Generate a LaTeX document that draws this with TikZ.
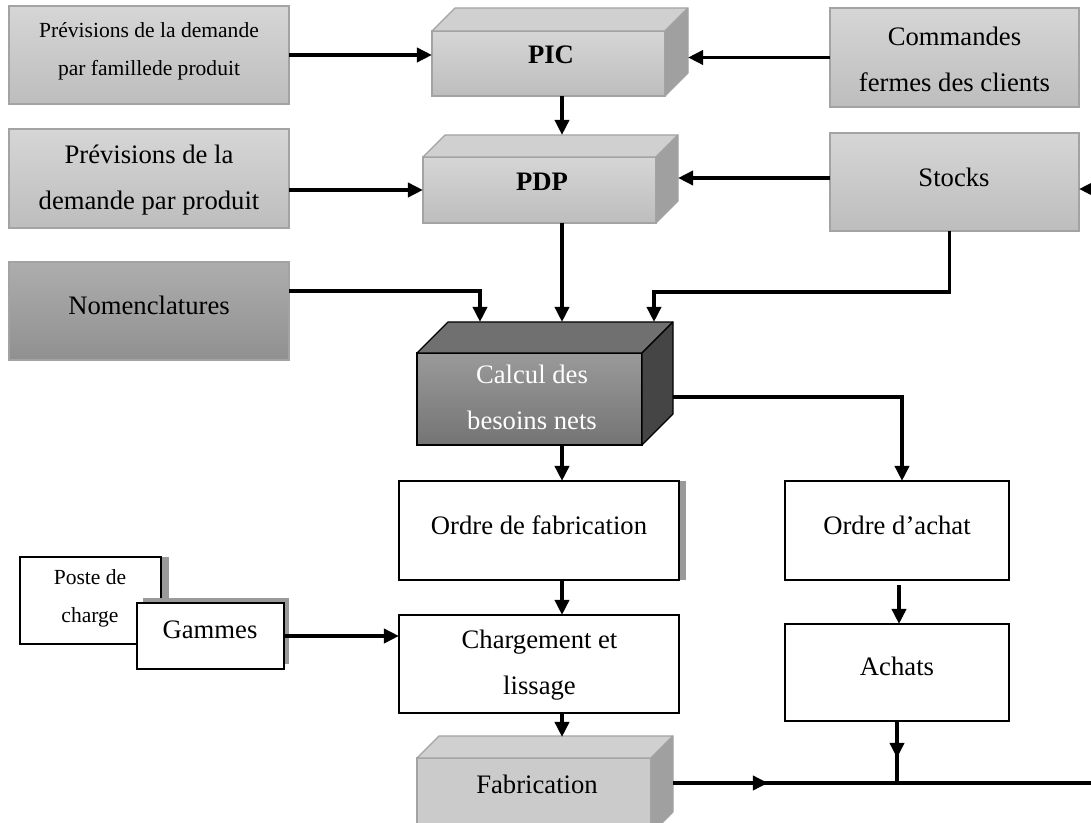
\documentclass[tikz,border=0pt]{standalone}
\usepackage{fontspec}
\setmainfont{Liberation Serif}
\usetikzlibrary{arrows.meta,calc}

\definecolor{lighttop}{HTML}{D6D6D6}
\definecolor{lightbot}{HTML}{BDBDBD}
\definecolor{midtop}{HTML}{ADADAD}
\definecolor{midbot}{HTML}{909090}
\definecolor{darktop}{HTML}{9A9A9A}
\definecolor{darkbot}{HTML}{747474}
\definecolor{boxedge}{HTML}{A3A3A3}
\definecolor{facetop}{HTML}{D0D0D0}
\definecolor{faceside}{HTML}{A0A0A0}
\definecolor{darkface}{HTML}{707070}
\definecolor{darkside}{HTML}{454545}
\definecolor{fabfront}{HTML}{CBCBCB}
\definecolor{shadowgray}{HTML}{9A9A9A}

\tikzset{
  wh/.style 2 args={minimum width=#1*0.45pt, minimum height=#2*0.45pt},
  shapebase/.style={rectangle, inner sep=0pt, outer sep=0pt},
  graybox/.style={shapebase, draw=boxedge, line width=0.5pt, top color=lighttop, bottom color=lightbot},
  midbox/.style={shapebase, draw=boxedge, line width=0.5pt, top color=midtop, bottom color=midbot},
  darkbox/.style={shapebase, draw=black, line width=0.5pt, top color=darktop, bottom color=darkbot},
  fabbox/.style={shapebase, draw=boxedge, line width=0.5pt, fill=fabfront},
  whitebox/.style={shapebase, draw=black, line width=1pt, fill=white},
  txt/.style={align=center, inner sep=0pt, font=\fontsize{12}{20.7}\selectfont},
  smalltxt/.style={align=center, inner sep=0pt, font=\fontsize{9.7}{17.1}\selectfont},
  boldtxt/.style={align=center, inner sep=0pt, font=\fontsize{12}{20.7}\selectfont\bfseries},
  arr/.style={line width=1.7pt, -{Triangle[length=6.8pt,width=6.3pt]}},
  ln/.style={line width=1.7pt},
}

% top and right faces of a box drawn in perspective
\newcommand\boxfaces[5]{%
  \filldraw[fill=#3, draw=#5, line width=0.5pt, line join=round]
    (#1.north west) -- ++(#2,-#2) -- ($(#1.north east)+(#2,-#2)$) -- (#1.north east) -- cycle;
  \filldraw[fill=#4, draw=#5, line width=0.5pt, line join=round]
    (#1.north east) -- ++(#2,-#2) -- ($(#1.south east)+(#2,-#2)$) -- (#1.south east) -- cycle;
}

\begin{document}
\begin{tikzpicture}[x=0.45pt, y=-0.45pt]
\useasboundingbox (0,0) rectangle (1091,823);
\clip (0,0) rectangle (1091,823);

% input boxes
\node[graybox, wh={280}{98}] (fam) at (149,55) {};
\node[graybox, wh={280}{99}] (prod) at (149,178.5) {};
\node[midbox, wh={280}{98}] (nom) at (149,311) {};
\node[graybox, wh={249}{99}] (cmd) at (954.5,57.5) {};
\node[graybox, wh={249}{98}] (stk) at (954.5,182) {};

% planning blocks
\node[graybox, wh={233}{65}] (pic) at (548.5,63.5) {};
\boxfaces{pic}{23}{facetop}{faceside}{boxedge}
\node[graybox, wh={233}{66}] (pdp) at (539.5,190) {};
\boxfaces{pdp}{22}{facetop}{faceside}{boxedge}
\node[darkbox, wh={225}{92}] (calc) at (529.5,399) {};
\boxfaces{calc}{31}{darkface}{darkside}{black}
\node[fabbox, wh={234}{76}] (fab) at (534,796) {};
\boxfaces{fab}{22}{facetop}{faceside}{boxedge}

% orders and execution
\fill[shadowgray] (406,481) rectangle (686,580);
\node[whitebox, wh={280}{99}] (of) at (539,530.5) {};
\node[whitebox, wh={280}{98}] (chg) at (539,664) {};
\node[whitebox, wh={224}{99}] (oa) at (897,530.5) {};
\node[whitebox, wh={224}{97}] (ach) at (897,672.5) {};

\fill[shadowgray] (28,557) rectangle (169,644);
\node[whitebox, wh={141}{87}] (poste) at (90.5,600.5) {};
\fill[shadowgray] (143,598) rectangle (289,664);
\node[whitebox, wh={147}{66}] (gam) at (210.5,636) {};

% labels
\node[smalltxt] (t-fam) at (149,51) {Prévisions de la demande\\par famillede produit};
\node[txt] (t-prod) at (149,180) {Prévisions de la\\demande par produit};
\node[txt] (t-nom) at (149,305) {Nomenclatures};
\node[txt] (t-cmd) at (954.5,59.5) {Commandes\\fermes des clients};
\node[txt] (t-stk) at (954,177) {Stocks};
\node[boldtxt] (t-pic) at (551,55) {PIC};
\node[boldtxt] (t-pdp) at (542,182) {PDP};
\node[txt, text=white] (t-calc) at (532,397) {Calcul des\\besoins nets};
\node[txt] (t-of) at (539,525) {Ordre de fabrication};
\node[txt] (t-oa) at (897,525) {Ordre d’achat};
\node[smalltxt] (t-poste) at (90,598.5) {Poste de\\charge};
\node[txt] (t-gam) at (210,630) {Gammes};
\node[txt] (t-chg) at (539.5,665) {Chargement et\\lissage};
\node[txt] (t-ach) at (897,666) {Achats};
\node[txt] (t-fab) at (537,784) {Fabrication};

% reference points for connectors
\coordinate (colx) at (562,0);
\coordinate (picR) at ($(pic.east)+(23,0)$);
\coordinate (pdpR) at ($(pdp.east)+(22,0)$);
\coordinate (pdpT) at ($(pdp.north)+(0,-22)$);
\coordinate (calcT) at ($(calc.north)+(0,-31)$);
\coordinate (fabT) at ($(fab.north)+(0,-21)$);
\coordinate (stkout) at ($(stk.west)+(0,-4)$);
\coordinate (rin) at (1100,189);
\coordinate (nomout) at ($(nom.east)+(0,-20)$);
\coordinate (nx) at (480,0);
\coordinate (sb) at ($(stk.south)+(-5,0)$);
\coordinate (sx) at (654,292);
\coordinate (calcout) at ($(calc.east)+(31,-2)$);
\coordinate (fo) at ($(fab.east)+(22,-13)$);
\coordinate (m1) at (768,783);
\coordinate (busR) at (1100,783);
\coordinate (aj) at (ach.south |- fo);

% connectors
\draw[arr] (fam.east) -- (fam.east -| pic.west);
\draw[arr] (cmd.west) -- (cmd.west -| picR);
\draw[arr] (colx |- pic.south) -- (colx |- pdpT);
\draw[arr] (pdp.west -| prod.east) -- (pdp.west);
\draw[arr] (stkout) -- (stkout -| pdpR);
\draw[arr] (rin) -- (rin -| stk.east);
\draw[arr] (colx |- pdp.south) -- (colx |- calcT);
\draw[arr] (nomout) -| (nx |- calcT);
\draw[arr] (sb) |- (sx) -- (sx |- calcT);
\draw[arr] (colx |- calc.south) -- (colx |- of.north);
\draw[arr] (calcout) -| ($(oa.north)+(5,0)$);
\draw[arr] (colx |- of.south) -- (colx |- chg.north);
\draw[arr] ($(oa.south)+(2,5)$) -- ($(ach.north)+(2,0)$);
\draw[arr] (gam.east) -- (gam.east -| chg.west);
\draw[arr] (colx |- chg.south) -- (colx |- fabT);
\draw[ln] (fo) -- (busR);
\draw[arr] (fo) -- (m1);
\draw[ln] (ach.south) -- (aj);
\draw[arr] (ach.south) -- ($(ach.south)+(0,37)$);
\end{tikzpicture}
\end{document}
